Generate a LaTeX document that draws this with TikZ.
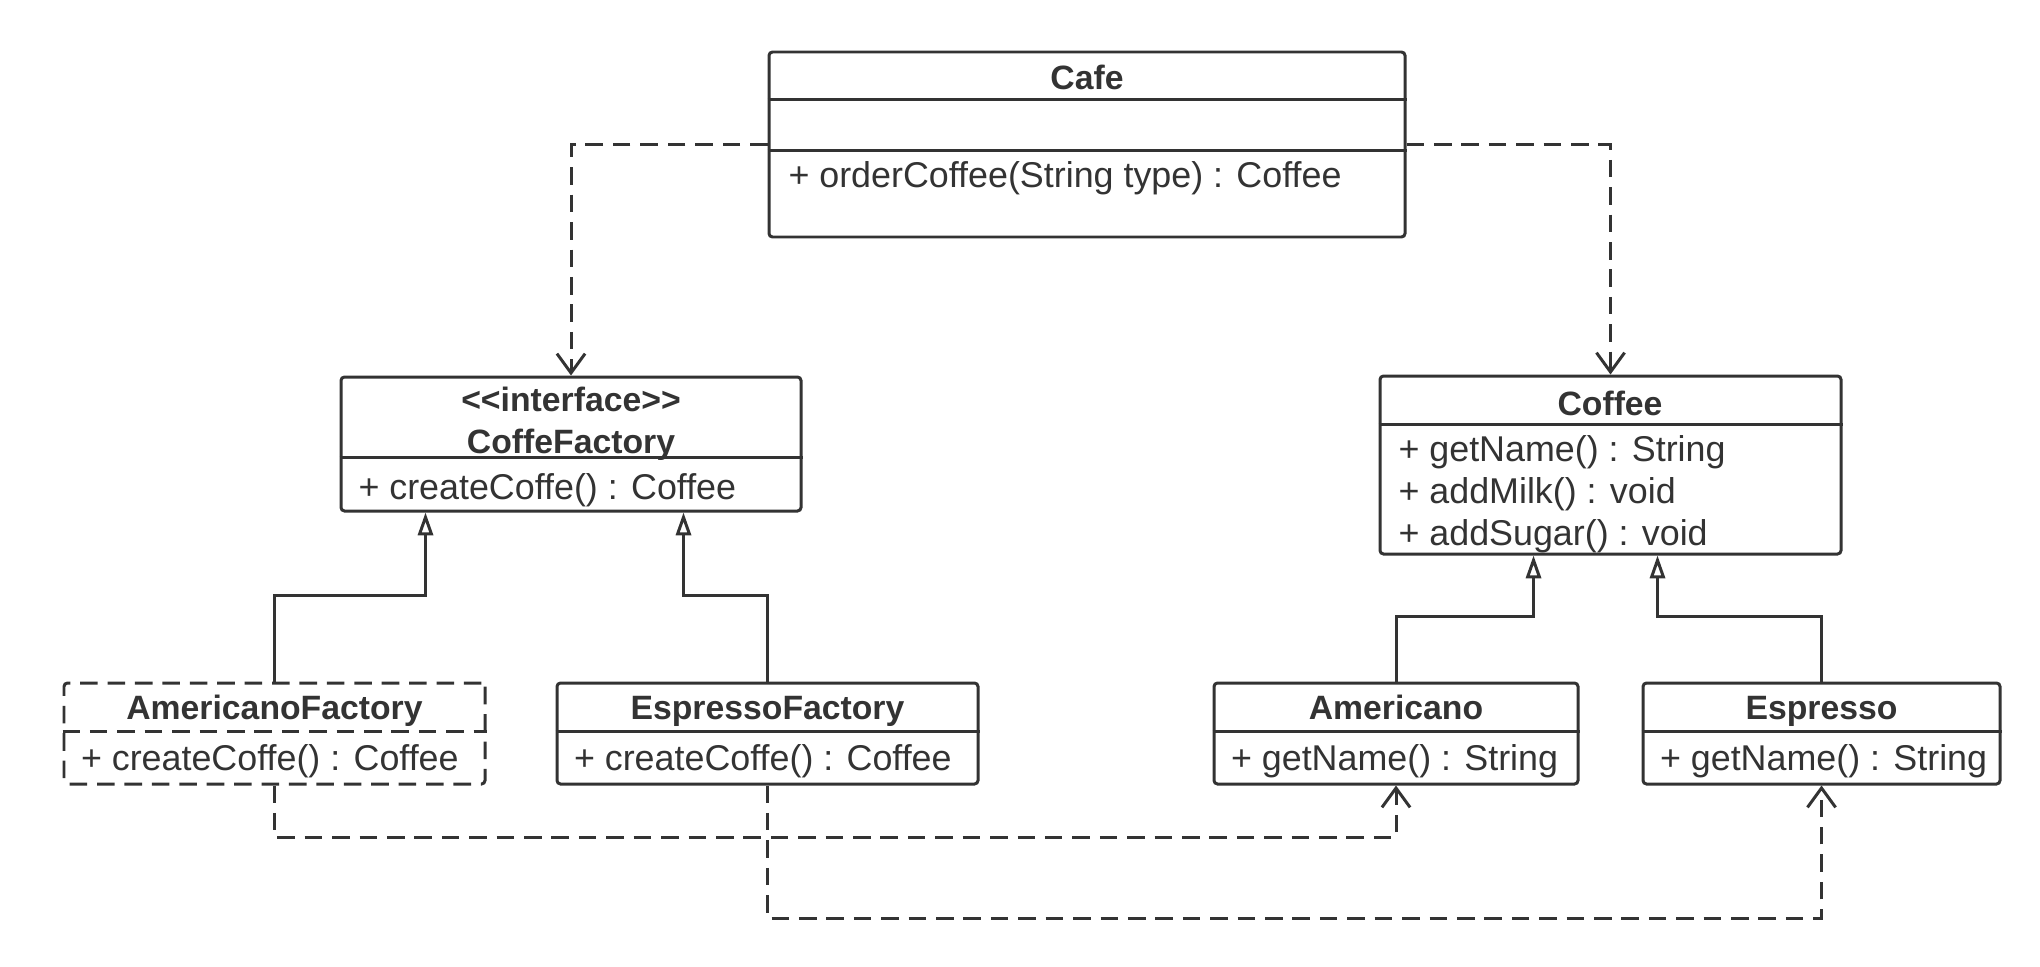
\documentclass[tikz,border=0pt]{standalone}
\usepackage{fontspec}
\setmainfont{Liberation Sans}
\usetikzlibrary{arrows.meta,calc,fit}
\definecolor{umlgray}{HTML}{333333}

\begin{document}
\begin{tikzpicture}[x=0.1mm, y=-0.1mm, line width=0.85pt, umlgray,
    every node/.style={font=\fontsize{10.2}{12}\selectfont, text=umlgray},
    box/.style={draw=umlgray, rounded corners=1pt, inner sep=0pt},
    cname/.style={font=\fontsize{9.6}{12}\selectfont\bfseries, text height=7pt, text depth=0pt},
    op/.style={anchor=west, inner sep=0pt},
    umldash/.style={dash pattern=on 5pt off 2.8pt},
    dep/.style={umldash, -{Straight Barb[length=5.5pt,width=8pt]}},
    inh/.style={-{Triangle[open,length=6.5pt,width=4.3pt]}}]
    \useasboundingbox (0,0) rectangle (2040,966);

    % client
    \node[box, fit={(769,52) (1405,237)}] (cafe) {};
    \draw ($(cafe.north west)+(0,49)$) -- ($(cafe.north east)+(0,49)$);
    \draw ($(cafe.north west)+(0,100)$) -- ($(cafe.north east)+(0,100)$);
    \node[cname] (cafename) at (1087,77) {Cafe};
    \node[op] (cafeop) at (787,178) {+ orderCoffee(String type) : Coffee};

    % factory interface
    \node[box, fit={(341,377) (801,511)}] (factory) {};
    \draw ($(factory.north west)+(0,82)$) -- ($(factory.north east)+(0,82)$);
    \node[cname] (stereo) at (571,399) {<\kern0pt<interface>\kern0pt>};
    \node[cname] (factoryname) at (571,441) {CoffeFactory};
    \node[op] (factoryop) at (357,490) {+ createCoffe() : Coffee};

    % product
    \node[box, fit={(1380,376) (1841,554)}] (coffee) {};
    \draw ($(coffee.north west)+(0,50)$) -- ($(coffee.north east)+(0,50)$);
    \node[cname] (coffeename) at (1610,403) {Coffee};
    \foreach \y/\m in {452/{+ getName() : String}, 494/{+ addMilk() : void}, 536/{+ addSugar() : void}}
        \node[op] at (1397,\y) {\m};

    % concrete classes
    \foreach \n/\xa/\xb/\st/\cls/\m in {amfac/64/485/umldash/AmericanoFactory/{+ createCoffe() : Coffee},
            esfac/557/978/solid/EspressoFactory/{+ createCoffe() : Coffee},
            americano/1214/1578/solid/Americano/{+ getName() : String},
            espresso/1643/2000/solid/Espresso/{+ getName() : String}} {
        \node[box, \st, fit={(\xa,683) (\xb,784)}] (\n) {};
        \draw[\st] ($(\n.north west)+(0,50)$) -- ($(\n.north east)+(0,50)$);
        \node[cname] at ($(\n.north)+(0,26)$) {\cls};
        \node[op] at ($(\n.north west)+(17,80)$) {\m};
    }

    % dependencies
    \draw[dep] (cafe.west) -| (factory.north);
    \draw[dep] (cafe.east) -| (coffee.north);
    \draw[dep] (amfac.south) -- ++(0,52) -| (americano.south);
    \draw[dep] (esfac.south) -- ++(0,133) -| (espresso.south);

    % realization / inheritance
    \draw[inh] (amfac.north) -- ++(0,-86) -| ($(factory.south west)+(86,0)$);
    \draw[inh] (esfac.north) -- ++(0,-86) -| ($(factory.south east)+(-119,0)$);
    \draw[inh] (americano.north) -- ++(0,-65) -| ($(coffee.south west)+(155,0)$);
    \draw[inh] (espresso.north) -- ++(0,-65) -| ($(coffee.south east)+(-185,0)$);
\end{tikzpicture}
\end{document}
